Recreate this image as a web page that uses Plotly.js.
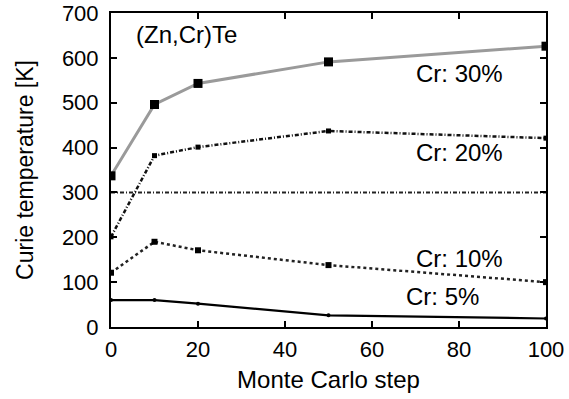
<!DOCTYPE html>
<html>
<head>
<meta charset="utf-8">
<script src="https://cdn.plot.ly/plotly-3.0.1.min.js"></script>
<style>html,body{margin:0;padding:0;background:#fff;}#chart{width:569px;height:399px;}</style>
</head>
<body>
<div id="chart"></div>
<script>
const steps = [0, 10, 20, 50, 100];
const cr30 = [337, 496, 543, 591, 626];
const cr20 = [201, 382, 401, 437, 421];
const cr10 = [121, 190, 171, 138, 100];
const cr5  = [60, 60, 52, 26, 19];
const refX = [0, 100];
const refY = [300, 300];
const labels = ["Cr: 30%", "Cr: 20%", "Cr: 10%", "Cr: 5%"];
const labelX = [80, 80, 80, 76.3];
const labelY = [566, 390, 153, 67];
const materialLabel = "(Zn,Cr)Te";

const FONT = "Liberation Sans, Arial, Helvetica, sans-serif";

const traces = [
  {x: refX, y: refY, mode: 'lines', line: {color: '#222', width: 2, dash: '4px,2px,1px,2px'}, hoverinfo: 'skip'},
  {x: steps, y: cr30, mode: 'lines+markers', line: {color: '#9a9a9a', width: 3}, marker: {symbol: 'square', size: 9, color: '#000'}},
  {x: steps, y: cr20, mode: 'lines+markers', line: {color: '#111', width: 2.5, dash: '4px,2px,1px,2px'}, marker: {symbol: 'square', size: 5, color: '#000'}},
  {x: steps, y: cr10, mode: 'lines+markers', line: {color: '#222', width: 2.5, dash: 'dot'}, marker: {symbol: 'square', size: 6, color: '#000'}},
  {x: steps, y: cr5, mode: 'lines+markers', line: {color: '#000', width: 2.2}, marker: {symbol: 'circle', size: 4, color: '#000'}}
];

const annotations = labels.map((t, i) => ({
  x: labelX[i], y: labelY[i], xref: 'x', yref: 'y', text: t, showarrow: false,
  font: {family: FONT, size: 24, color: '#000'}
}));
annotations.push({x: 17.3, y: 652, xref: 'x', yref: 'y', text: materialLabel, showarrow: false,
  font: {family: FONT, size: 24, color: '#000'}});

const layout = {
  width: 569, height: 399,
  margin: {l: 111, r: 23, t: 13, b: 72},
  paper_bgcolor: '#fff', plot_bgcolor: '#fff',
  showlegend: false,
  font: {family: FONT, color: '#000'},
  xaxis: {
    range: [0, 100], dtick: 20, tick0: 0,
    showgrid: false, zeroline: false,
    showline: true, linecolor: '#000', linewidth: 2, mirror: 'ticks',
    ticks: 'inside', ticklen: 6, tickwidth: 2, tickcolor: '#000',
    tickfont: {family: FONT, size: 22, color: '#000'},
    ticklabelstandoff: 2,
    title: {text: 'Monte Carlo step', font: {family: FONT, size: 24, color: '#000'}, standoff: 10}
  },
  yaxis: {
    range: [0, 700], dtick: 100, tick0: 0,
    showgrid: false, zeroline: false,
    showline: true, linecolor: '#000', linewidth: 2, mirror: 'ticks',
    ticks: 'inside', ticklen: 6, tickwidth: 2, tickcolor: '#000',
    tickfont: {family: FONT, size: 22, color: '#000'},
    ticklabelstandoff: 6,
    title: {text: 'Curie temperature [K]', font: {family: FONT, size: 23, color: '#000'}, standoff: 22}
  },
  annotations: annotations
};

Plotly.newPlot('chart', traces, layout, {displayModeBar: false, staticPlot: true});
</script>
</body>
</html>
